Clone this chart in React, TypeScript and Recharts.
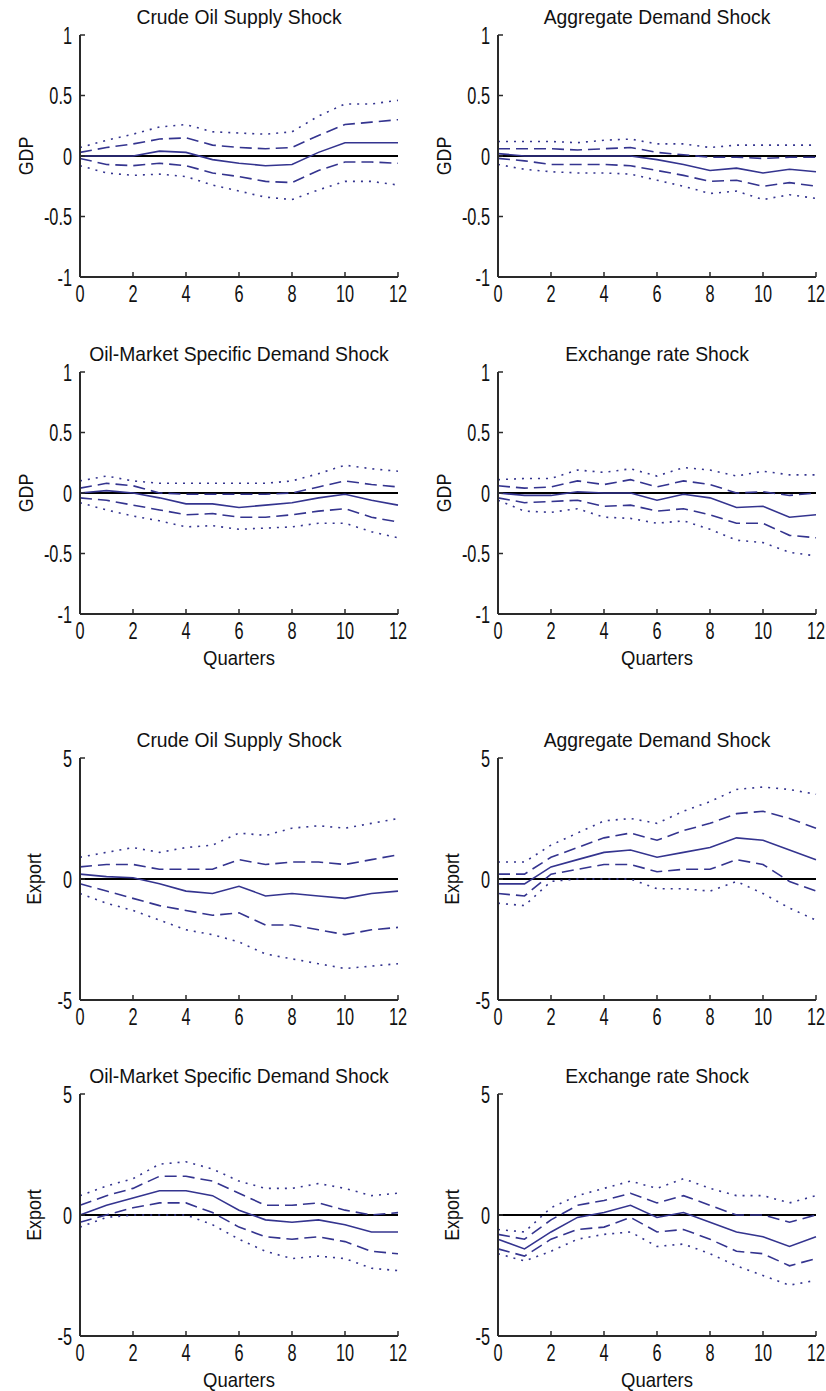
import { Line, LineChart, ReferenceLine, XAxis, YAxis } from "recharts"

const quarters = [0, 1, 2, 3, 4, 5, 6, 7, 8, 9, 10, 11, 12]
const xTicks = [0, 2, 4, 6, 8, 10, 12]
const gdpTicks = [-1, -0.5, 0, 0.5, 1]
const exportTicks = [-5, 0, 5]

const titles = [
  "Crude Oil Supply Shock",
  "Aggregate Demand Shock",
  "Oil-Market Specific Demand Shock",
  "Exchange rate Shock",
]

// GDP responses
const gdpSupplyHi2 = [0.07, 0.13, 0.18, 0.24, 0.26, 0.2, 0.19, 0.18, 0.2, 0.33, 0.43, 0.43, 0.46]
const gdpSupplyHi1 = [0.03, 0.07, 0.1, 0.14, 0.15, 0.09, 0.07, 0.06, 0.07, 0.17, 0.26, 0.28, 0.3]
const gdpSupplyMid = [0, 0, 0, 0.04, 0.03, -0.03, -0.06, -0.08, -0.07, 0.03, 0.11, 0.11, 0.11]
const gdpSupplyLo1 = [-0.02, -0.07, -0.08, -0.06, -0.08, -0.14, -0.17, -0.21, -0.22, -0.12, -0.05, -0.05, -0.06]
const gdpSupplyLo2 = [-0.08, -0.14, -0.16, -0.15, -0.17, -0.24, -0.29, -0.34, -0.36, -0.28, -0.21, -0.21, -0.24]

const gdpDemandHi2 = [0.12, 0.12, 0.12, 0.11, 0.13, 0.14, 0.1, 0.1, 0.07, 0.09, 0.09, 0.09, 0.09]
const gdpDemandHi1 = [0.06, 0.06, 0.06, 0.05, 0.06, 0.07, 0.03, 0.01, -0.01, -0.01, -0.02, -0.01, -0.01]
const gdpDemandMid = [0.02, 0, 0, 0, 0, 0, -0.03, -0.07, -0.12, -0.1, -0.14, -0.11, -0.13]
const gdpDemandLo1 = [-0.02, -0.04, -0.07, -0.07, -0.07, -0.08, -0.12, -0.16, -0.21, -0.2, -0.25, -0.22, -0.25]
const gdpDemandLo2 = [-0.07, -0.11, -0.13, -0.14, -0.14, -0.15, -0.2, -0.25, -0.31, -0.29, -0.36, -0.32, -0.35]

const gdpOilHi2 = [0.1, 0.14, 0.1, 0.08, 0.08, 0.08, 0.08, 0.08, 0.1, 0.16, 0.23, 0.2, 0.18]
const gdpOilHi1 = [0.04, 0.08, 0.06, 0, -0.01, -0.01, -0.01, -0.01, 0, 0.05, 0.1, 0.07, 0.05]
const gdpOilMid = [0, 0.02, 0, -0.04, -0.09, -0.09, -0.12, -0.1, -0.08, -0.04, -0.01, -0.06, -0.1]
const gdpOilLo1 = [-0.04, -0.06, -0.1, -0.14, -0.18, -0.17, -0.2, -0.2, -0.18, -0.15, -0.13, -0.2, -0.24]
const gdpOilLo2 = [-0.08, -0.14, -0.19, -0.23, -0.28, -0.27, -0.3, -0.29, -0.28, -0.25, -0.25, -0.32, -0.37]

const gdpFxHi2 = [0.11, 0.12, 0.12, 0.19, 0.17, 0.2, 0.14, 0.21, 0.19, 0.14, 0.18, 0.15, 0.15]
const gdpFxHi1 = [0.06, 0.04, 0.05, 0.1, 0.07, 0.11, 0.05, 0.1, 0.07, 0, 0.01, -0.02, 0]
const gdpFxMid = [0, -0.02, -0.02, 0.01, 0, 0, -0.06, -0.01, -0.04, -0.12, -0.11, -0.2, -0.18]
const gdpFxLo1 = [-0.04, -0.08, -0.07, -0.06, -0.11, -0.1, -0.15, -0.13, -0.18, -0.25, -0.25, -0.35, -0.37]
const gdpFxLo2 = [-0.06, -0.15, -0.16, -0.13, -0.2, -0.21, -0.25, -0.23, -0.3, -0.39, -0.41, -0.49, -0.52]

// Export responses
const expSupplyHi2 = [0.9, 1.1, 1.3, 1.1, 1.3, 1.4, 1.9, 1.8, 2.1, 2.2, 2.1, 2.3, 2.5]
const expSupplyHi1 = [0.5, 0.6, 0.6, 0.4, 0.4, 0.4, 0.8, 0.6, 0.7, 0.7, 0.6, 0.8, 1.0]
const expSupplyMid = [0.2, 0.1, 0.05, -0.2, -0.5, -0.6, -0.3, -0.7, -0.6, -0.7, -0.8, -0.6, -0.5]
const expSupplyLo1 = [-0.2, -0.5, -0.8, -1.1, -1.3, -1.5, -1.4, -1.9, -1.9, -2.1, -2.3, -2.1, -2.0]
const expSupplyLo2 = [-0.6, -1.0, -1.3, -1.7, -2.1, -2.3, -2.6, -3.1, -3.3, -3.5, -3.7, -3.6, -3.5]

const expDemandHi2 = [0.7, 0.7, 1.4, 1.9, 2.4, 2.5, 2.3, 2.8, 3.2, 3.7, 3.8, 3.7, 3.5]
const expDemandHi1 = [0.2, 0.2, 0.9, 1.3, 1.7, 1.9, 1.6, 2.0, 2.3, 2.7, 2.8, 2.5, 2.1]
const expDemandMid = [-0.2, -0.2, 0.5, 0.8, 1.1, 1.2, 0.9, 1.1, 1.3, 1.7, 1.6, 1.2, 0.8]
const expDemandLo1 = [-0.6, -0.7, 0.2, 0.4, 0.6, 0.6, 0.3, 0.4, 0.4, 0.8, 0.6, -0.1, -0.5]
const expDemandLo2 = [-1.0, -1.1, -0.1, 0, 0, 0, -0.4, -0.4, -0.5, -0.1, -0.6, -1.2, -1.7]

const expOilHi2 = [0.8, 1.2, 1.5, 2.1, 2.2, 1.9, 1.4, 1.1, 1.1, 1.3, 1.1, 0.8, 0.9]
const expOilHi1 = [0.4, 0.8, 1.1, 1.6, 1.6, 1.4, 0.9, 0.4, 0.4, 0.5, 0.2, 0, 0.1]
const expOilMid = [0, 0.4, 0.7, 1.0, 1.0, 0.8, 0.2, -0.2, -0.3, -0.2, -0.4, -0.7, -0.7]
const expOilLo1 = [-0.3, 0, 0.3, 0.5, 0.5, 0.1, -0.5, -0.9, -1.0, -0.9, -1.1, -1.5, -1.6]
const expOilLo2 = [-0.5, -0.1, 0, 0, 0, -0.4, -1.0, -1.5, -1.8, -1.7, -1.8, -2.2, -2.3]

const expFxHi2 = [-0.6, -0.7, 0.3, 0.8, 1.1, 1.4, 1.1, 1.5, 1.1, 0.8, 0.8, 0.5, 0.8]
const expFxHi1 = [-0.8, -1.0, -0.2, 0.4, 0.6, 0.9, 0.5, 0.8, 0.4, 0, 0, -0.3, 0]
const expFxMid = [-1.0, -1.4, -0.7, -0.1, 0.1, 0.4, -0.1, 0.1, -0.3, -0.7, -0.9, -1.3, -0.9]
const expFxLo1 = [-1.4, -1.7, -1.0, -0.6, -0.5, -0.1, -0.7, -0.6, -1.0, -1.5, -1.6, -2.1, -1.8]
const expFxLo2 = [-1.6, -1.9, -1.5, -1.0, -0.8, -0.7, -1.3, -1.2, -1.6, -2.1, -2.5, -2.9, -2.7]

const LINE = "#34348f"
const AXIS = "#2a2a2a"
const INK = "#111"
const FONT = '"Liberation Sans", Arial, sans-serif'

const PLOT_W = 318
const PLOT_H = 242
const PAD_L = 80
const PAD_T = 35
const CHART_W = 408
const CHART_H = 342

interface PanelSpec {
  title: string
  yLabel: string
  ticks: number[]
  domain: [number, number]
  left: number
  top: number
  quarters: boolean
  hi2: number[]
  hi1: number[]
  mid: number[]
  lo1: number[]
  lo2: number[]
}

const gdp = { yLabel: "GDP", ticks: gdpTicks, domain: [-1, 1] as [number, number] }
const exp = { yLabel: "Export", ticks: exportTicks, domain: [-5, 5] as [number, number] }

const panels: PanelSpec[] = [
  { ...gdp, title: titles[0], left: 80, top: 35, quarters: false, hi2: gdpSupplyHi2, hi1: gdpSupplyHi1, mid: gdpSupplyMid, lo1: gdpSupplyLo1, lo2: gdpSupplyLo2 },
  { ...gdp, title: titles[1], left: 498, top: 35, quarters: false, hi2: gdpDemandHi2, hi1: gdpDemandHi1, mid: gdpDemandMid, lo1: gdpDemandLo1, lo2: gdpDemandLo2 },
  { ...gdp, title: titles[2], left: 80, top: 372, quarters: true, hi2: gdpOilHi2, hi1: gdpOilHi1, mid: gdpOilMid, lo1: gdpOilLo1, lo2: gdpOilLo2 },
  { ...gdp, title: titles[3], left: 498, top: 372, quarters: true, hi2: gdpFxHi2, hi1: gdpFxHi1, mid: gdpFxMid, lo1: gdpFxLo1, lo2: gdpFxLo2 },
  { ...exp, title: titles[0], left: 80, top: 758, quarters: false, hi2: expSupplyHi2, hi1: expSupplyHi1, mid: expSupplyMid, lo1: expSupplyLo1, lo2: expSupplyLo2 },
  { ...exp, title: titles[1], left: 498, top: 758, quarters: false, hi2: expDemandHi2, hi1: expDemandHi1, mid: expDemandMid, lo1: expDemandLo1, lo2: expDemandLo2 },
  { ...exp, title: titles[2], left: 80, top: 1094, quarters: true, hi2: expOilHi2, hi1: expOilHi1, mid: expOilMid, lo1: expOilLo1, lo2: expOilLo2 },
  { ...exp, title: titles[3], left: 498, top: 1094, quarters: true, hi2: expFxHi2, hi1: expFxHi1, mid: expFxMid, lo1: expFxLo1, lo2: expFxLo2 },
]

const axisLine = { stroke: AXIS, strokeWidth: 2 }
const tickLine = { stroke: AXIS, strokeWidth: 1.5 }

// the original uses tall, narrow tick digits
const TICK_SIZE = 24
const TICK_SQUEEZE = 0.68

function XTick(props: any) {
  const { x, y, payload } = props
  return (
    <text
      transform={`translate(${x},${y}) scale(${TICK_SQUEEZE},1)`}
      textAnchor="middle"
      dy={TICK_SIZE * 0.72}
      fontSize={TICK_SIZE}
      fill={INK}
    >
      {String(payload.value)}
    </text>
  )
}

function YTick(props: any) {
  const { x, y, payload } = props
  return (
    <text
      transform={`translate(${x},${y}) scale(${TICK_SQUEEZE},1)`}
      textAnchor="end"
      dy={TICK_SIZE * 0.36}
      fontSize={TICK_SIZE}
      fill={INK}
    >
      {String(payload.value)}
    </text>
  )
}

const textBox = {
  position: "absolute" as const,
  height: 24,
  lineHeight: "24px",
  textAlign: "center" as const,
  fontSize: 21,
  color: INK,
  whiteSpace: "nowrap" as const,
}

function Panel({ p }: { p: PanelSpec }) {
  const data = quarters.map((q, i) => ({
    q,
    hi2: p.hi2[i],
    hi1: p.hi1[i],
    mid: p.mid[i],
    lo1: p.lo1[i],
    lo2: p.lo2[i],
  }))
  const labelX = p.yLabel === "GDP" ? 26 : 34

  return (
    <div style={{ position: "absolute", left: p.left - PAD_L, top: p.top - PAD_T, width: CHART_W, height: CHART_H }}>
      <div style={{ ...textBox, left: PAD_L - 40, width: PLOT_W + 80, top: PAD_T - 30, transform: "scaleX(0.92)" }}>
        {p.title}
      </div>
      <div
        style={{
          ...textBox,
          left: labelX - 60,
          width: 120,
          top: PAD_T + PLOT_H / 2 - 12,
          transform: "rotate(-90deg) scaleX(0.85)",
        }}
      >
        {p.yLabel}
      </div>
      <LineChart width={CHART_W} height={CHART_H} data={data} margin={{ top: PAD_T, right: 10, bottom: 5, left: 0 }}>
        <XAxis
          dataKey="q"
          type="number"
          domain={[0, 12]}
          ticks={xTicks}
          interval={0}
          height={CHART_H - PAD_T - PLOT_H - 5}
          tickSize={-5}
          tickMargin={13}
          axisLine={axisLine}
          tickLine={tickLine}
          tick={<XTick />}
        />
        <XAxis
          xAxisId="top"
          orientation="top"
          dataKey="q"
          type="number"
          domain={[0, 12]}
          ticks={xTicks}
          interval={0}
          height={0}
          tickSize={-5}
          axisLine={axisLine}
          tickLine={tickLine}
          tick={false}
        />
        <YAxis
          type="number"
          domain={p.domain}
          ticks={p.ticks}
          interval={0}
          width={PAD_L}
          tickSize={-5}
          tickMargin={13}
          axisLine={axisLine}
          tickLine={tickLine}
          tick={<YTick />}
        />
        <YAxis
          yAxisId="right"
          orientation="right"
          type="number"
          domain={p.domain}
          ticks={p.ticks}
          interval={0}
          width={0}
          tickSize={-5}
          axisLine={axisLine}
          tickLine={tickLine}
          tick={false}
        />
        <ReferenceLine y={0} stroke="#000" strokeWidth={2} />
        <Line dataKey="hi2" stroke={LINE} strokeWidth={1.6} strokeDasharray="2 6" dot={false} isAnimationActive={false} />
        <Line dataKey="hi1" stroke={LINE} strokeWidth={1.6} strokeDasharray="12 6" dot={false} isAnimationActive={false} />
        <Line dataKey="mid" stroke={LINE} strokeWidth={1.6} dot={false} isAnimationActive={false} />
        <Line dataKey="lo1" stroke={LINE} strokeWidth={1.6} strokeDasharray="12 6" dot={false} isAnimationActive={false} />
        <Line dataKey="lo2" stroke={LINE} strokeWidth={1.6} strokeDasharray="2 6" dot={false} isAnimationActive={false} />
      </LineChart>
      {p.quarters && (
        <div style={{ ...textBox, left: PAD_L, width: PLOT_W, top: PAD_T + PLOT_H + 32, transform: "scaleX(0.88)" }}>
          Quarters
        </div>
      )}
    </div>
  )
}

export default function App() {
  return (
    <div
      style={{
        position: "absolute",
        left: 0,
        top: 0,
        width: 826,
        height: 1391,
        background: "#fff",
        fontFamily: FONT,
      }}
    >
      {panels.map((p, i) => (
        <Panel key={i} p={p} />
      ))}
    </div>
  )
}
